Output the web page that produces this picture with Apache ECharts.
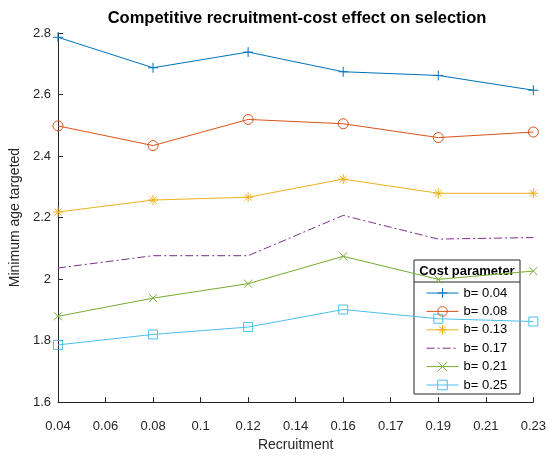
<!DOCTYPE html>
<html>
<head>
<meta charset="utf-8">
<script src="https://cdn.jsdelivr.net/npm/echarts@6/dist/echarts.min.js"></script>
<style>
  html, body { margin: 0; padding: 0; background: #fff; }
  #chart { width: 549px; height: 457px; }
</style>
</head>
<body>
<div id="chart"></div>
<script>
// 刻度标签（原图横轴刻度等距，但标签不是等差）
var tickLabels = ['0.04', '0.06', '0.08', '0.1', '0.12', '0.14', '0.16', '0.17', '0.19', '0.21', '0.23'];
var recruitment = [0.04, 0.08, 0.12, 0.16, 0.19, 0.23];
var costNames = ['b= 0.04', 'b= 0.08', 'b= 0.13', 'b= 0.17', 'b= 0.21', 'b= 0.25'];

var b004 = [2.786, 2.687, 2.738, 2.674, 2.662, 2.614];
var b008 = [2.498, 2.434, 2.519, 2.505, 2.460, 2.478];
var b013 = [2.218, 2.257, 2.266, 2.325, 2.279, 2.279];
var b017 = [2.036, 2.076, 2.076, 2.207, 2.130, 2.135];
var b021 = [1.879, 1.938, 1.985, 2.074, 1.999, 2.026];
var b025 = [1.786, 1.820, 1.844, 1.901, 1.871, 1.862];

var yTicks = [1.6, 1.8, 2, 2.2, 2.4, 2.6, 2.8];

var colors = ['#0072BD', '#D95319', '#EDB120', '#7E2F8E', '#77AC30', '#4DBEEE'];

var myChart = echarts.init(document.getElementById('chart'));

function toPoints(vals) {
    var pts = [];
    for (var i = 0; i < vals.length; i++) {
        pts.push([tickLabels.indexOf(String(recruitment[i])), vals[i]]);
    }
    return pts;
}

// 空心标记都用描边路径，线从标记中间穿过
var plusPath = 'path://M5,0L5,10M0,5L10,5';
var starPath = 'path://M5,0L5,10M0,5L10,5M1.5,1.5L8.5,8.5M1.5,8.5L8.5,1.5';
var crossPath = 'path://M0,0L10,10M0,10L10,0';
var circlePath = 'path://M10,5A5,5,0,1,1,0,5A5,5,0,1,1,10,5Z';
var squarePath = 'path://M0,0L10,0L10,10L0,10Z';
var blankPath = 'path://M0,0L10,10';

function makeSeries(idx, vals, symbol, size, dash) {
    var c = colors[idx];
    var hidden = symbol === blankPath;
    return {
        name: costNames[idx],
        type: 'line',
        data: toPoints(vals),
        symbol: symbol,
        symbolSize: size,
        showSymbol: !hidden,
        lineStyle: { color: c, width: 1, type: dash || 'solid' },
        itemStyle: {
            color: 'rgba(0,0,0,0)',
            borderColor: hidden ? 'rgba(0,0,0,0)' : c,
            borderWidth: 1
        },
        emphasis: { disabled: true },
        animation: false
    };
}

var option = {
    animation: false,
    title: {
        text: 'Competitive recruitment-cost effect on selection',
        left: 292,
        top: 5,
        textAlign: 'center',
        textStyle: {
            fontFamily: 'Liberation Sans, Arial, sans-serif',
            fontWeight: 'bold',
            fontSize: 16.5,
            color: '#000'
        }
    },
    grid: {
        left: 57,
        right: 12,
        top: 33,
        bottom: 49
    },
    legend: {
        orient: 'vertical',
        left: 421,
        top: 281.5,
        itemWidth: 32,
        itemHeight: 12,
        itemGap: 5.4,
        data: costNames,
        lineStyle: { width: 1 },
        itemStyle: { borderWidth: 1 },
        textStyle: {
            fontFamily: 'Liberation Sans, Arial, sans-serif',
            fontSize: 13,
            color: '#000'
        }
    },
    graphic: [
        {
            type: 'rect',
            shape: { x: 414, y: 260, width: 106, height: 134 },
            style: { fill: '#fff', stroke: '#262626', lineWidth: 1 }
        },
        {
            type: 'line',
            shape: { x1: 414, y1: 282, x2: 520, y2: 282 },
            style: { stroke: '#262626', lineWidth: 1 }
        },
        {
            type: 'text',
            style: {
                text: 'Cost parameter',
                x: 467,
                y: 271,
                textAlign: 'center',
                textVerticalAlign: 'middle',
                font: 'bold 13px "Liberation Sans", Arial, sans-serif',
                fill: '#000'
            }
        }
    ],
    xAxis: {
        type: 'value',
        min: 0,
        max: 10,
        interval: 1,
        name: 'Recruitment',
        nameLocation: 'middle',
        nameGap: 35,
        nameTextStyle: {
            fontFamily: 'Liberation Sans, Arial, sans-serif',
            fontSize: 14,
            color: '#262626'
        },
        axisLine: { onZero: false, lineStyle: { color: '#262626', width: 1 } },
        axisTick: { inside: true, length: 5, lineStyle: { color: '#262626' } },
        axisLabel: {
            margin: 18,
            fontFamily: 'Liberation Sans, Arial, sans-serif',
            fontSize: 13,
            color: '#262626',
            formatter: function(v) { return tickLabels[Math.round(v)]; }
        },
        splitLine: { show: false }
    },
    yAxis: {
        type: 'value',
        min: yTicks[0],
        max: yTicks[yTicks.length - 1],
        interval: 0.2,
        name: 'Minimum age targeted',
        nameLocation: 'middle',
        nameGap: 33,
        nameTextStyle: {
            fontFamily: 'Liberation Sans, Arial, sans-serif',
            fontSize: 14,
            color: '#262626'
        },
        axisLine: { show: true, lineStyle: { color: '#262626', width: 1 } },
        axisTick: { show: true, inside: true, length: 5, lineStyle: { color: '#262626' } },
        axisLabel: {
            margin: 7,
            fontFamily: 'Liberation Sans, Arial, sans-serif',
            fontSize: 13,
            color: '#262626',
            formatter: function(v) { return String(Math.round(v * 10) / 10); }
        },
        splitLine: { show: false }
    },
    series: [
        makeSeries(0, b004, plusPath, 10),
        makeSeries(1, b008, circlePath, 10),
        makeSeries(2, b013, starPath, 10),
        makeSeries(3, b017, blankPath, 1, [8, 3, 2, 3]),
        makeSeries(4, b021, crossPath, 8),
        makeSeries(5, b025, squarePath, 9)
    ]
};

myChart.setOption(option);
</script>
</body>
</html>
